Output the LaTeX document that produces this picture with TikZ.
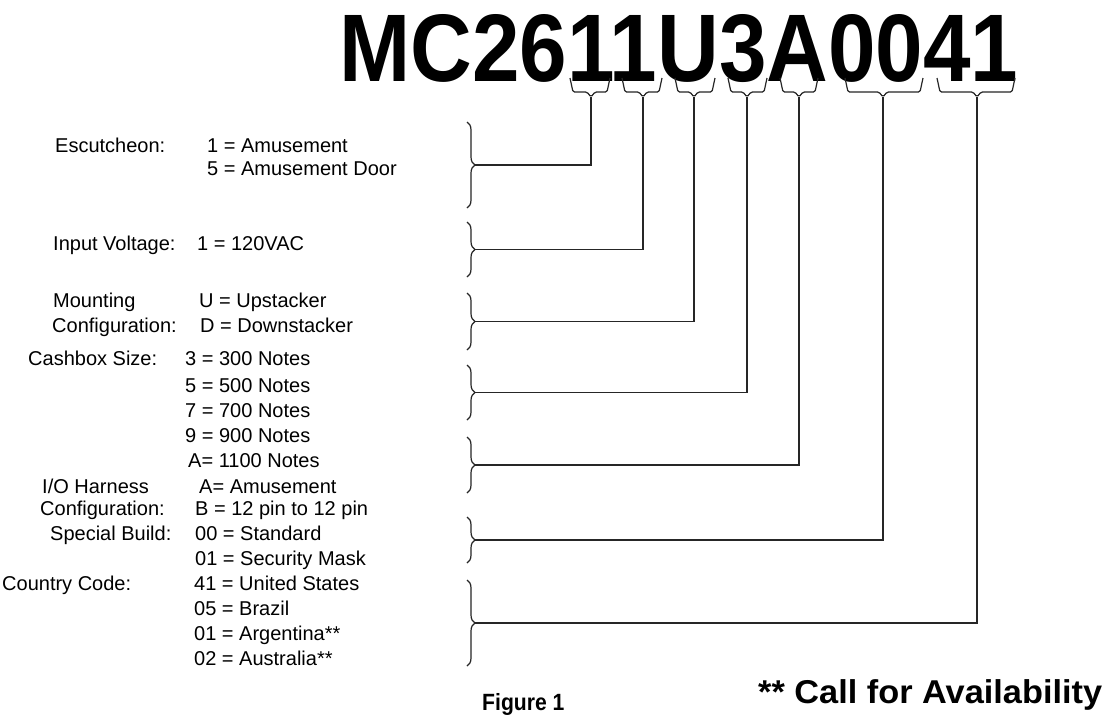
\documentclass[tikz,border=0pt]{standalone}
\usepackage{fontspec}
\setmainfont{Liberation Sans}
\usetikzlibrary{decorations.pathreplacing}
\newcommand\topbr[4]{%
  \draw[smallbrace] (#1,78) -- (#1+3,92) -- (#2-4,92) -- (#2,97) -- (#2+4,92) -- (#3-3,92) -- (#3,78);
  \coordinate (#4) at (#2,97);}
\newcommand\sidebr[3]{%
  \draw[bigbrace] (467,#1) -- (467,#2);
  \coordinate (#3) at (475,{(#1+#2)/2});}
\begin{document}
\begin{tikzpicture}[x=1pt,y=-1pt,
  lbl/.style={anchor=base west, inner sep=0pt, font=\fontsize{20}{20}\selectfont},
  conn/.style={line width=1.3pt, draw=black!85},
  bigbrace/.style={line width=1.2pt, draw=black!85, decorate, decoration={brace, amplitude=8pt}},
  smallbrace/.style={line width=1.2pt, draw=black!85, rounded corners=1.5pt}]
\useasboundingbox[fill=white] (0,0) rectangle (1109,716);

\node[anchor=base west, inner sep=0pt] (title) at (339,81)
  {\scalebox{0.89}[1]{\fontsize{96}{96}\selectfont\bfseries MC2611U3A0041}};

\topbr{570}{591}{610}{t1}
\topbr{622}{643}{662}{t2}
\topbr{675}{694}{715}{t3}
\topbr{728}{747}{767}{t4}
\topbr{780}{799}{818}{t5}
\topbr{845}{883}{923}{t6}
\topbr{937}{977}{1015}{t7}

\sidebr{122}{208}{s1}
\sidebr{222}{277}{s2}
\sidebr{293}{350}{s3}
\sidebr{365}{420}{s4}
\sidebr{437}{493}{s5}
\sidebr{517}{563}{s6}
\sidebr{580}{666}{s7}

\draw[conn] (t1) |- (s1);
\draw[conn] (t2) |- (s2);
\draw[conn] (t3) |- (s3);
\draw[conn] (t4) |- (s4);
\draw[conn] (t5) |- (s5);
\draw[conn] (t6) |- (s6);
\draw[conn] (t7) |- (s7);

\node[lbl] (esc) at (55,152) {Escutcheon:};
\node[lbl] (esc1) at (207,152) {1 = Amusement};
\node[lbl] (esc2) at (207,175) {5 = Amusement Door};
\node[lbl] (inv) at (53,250) {Input Voltage:};
\node[lbl] (inv1) at (197,250) {1 = 120VAC};
\node[lbl] (mnt) at (53,307) {Mounting};
\node[lbl] (mnt1) at (199,307) {U = Upstacker};
\node[lbl] (mntb) at (52,332) {Configuration:};
\node[lbl] (mnt2) at (200,332) {D = Downstacker};
\node[lbl] (cash) at (28,365) {Cashbox Size:};
\node[lbl] (cash1) at (185,365) {3 = 300 Notes};
\node[lbl] (cash2) at (185,392) {5 = 500 Notes};
\node[lbl] (cash3) at (185,417) {7 = 700 Notes};
\node[lbl] (cash4) at (185,442) {9 = 900 Notes};
\node[lbl] (cash5) at (188,467) {A= 1100 Notes};
\node[lbl] (io) at (42,493) {I/O Harness};
\node[lbl] (io1) at (199,493) {A= Amusement};
\node[lbl] (iob) at (40,515) {Configuration:};
\node[lbl] (io2) at (195,515) {B = 12 pin to 12 pin};
\node[lbl] (sb) at (50,540) {Special Build:};
\node[lbl] (sb1) at (195,540) {00 = Standard};
\node[lbl] (sb2) at (195,565) {01 = Security Mask};
\node[lbl] (cc) at (2,590) {Country Code:};
\node[lbl] (cc1) at (194,590) {41 = United States};
\node[lbl] (cc2) at (194,615) {05 = Brazil};
\node[lbl] (cc3) at (194,640) {01 = Argentina**};
\node[lbl] (cc4) at (194,665) {02 = Australia**};

\node[anchor=base west, inner sep=0pt] (fig) at (482,710)
  {\scalebox{0.9}[1]{\fontsize{23.5}{23.5}\selectfont\bfseries Figure 1}};
\node[anchor=base west, inner sep=0pt] (call) at (758,703)
  {\scalebox{1.04}[1]{\fontsize{33}{33}\selectfont\bfseries ** Call for Availability}};
\end{tikzpicture}
\end{document}
